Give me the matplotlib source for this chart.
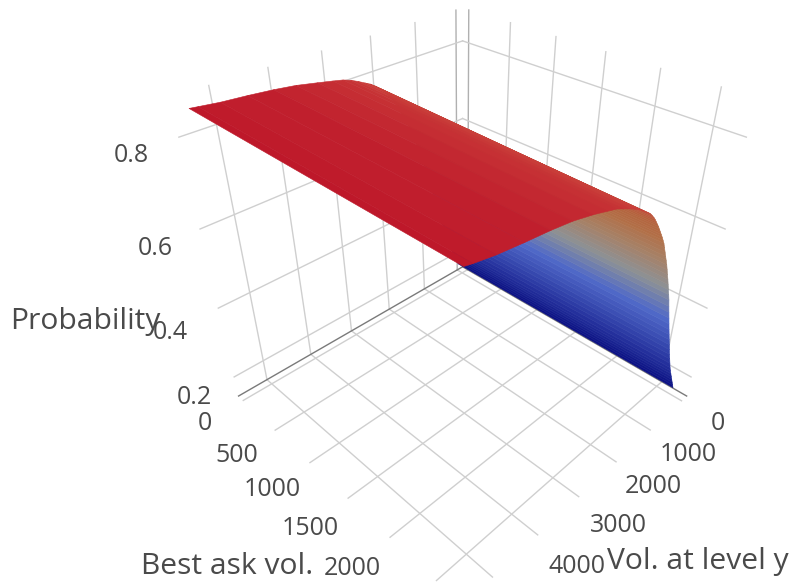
import numpy as np
import matplotlib
matplotlib.use('Agg')
import matplotlib.pyplot as plt
from matplotlib.colors import LinearSegmentedColormap, Normalize
from mpl_toolkits.mplot3d import proj3d

plt.rcParams['font.family'] = ['Open Sans', 'DejaVu Sans']

# values
vol_levels = [120, 160, 200, 240, 280, 320, 360, 400, 440, 480, 520, 560, 600, 640, 680, 720, 760, 800, 840, 880,
              920, 960, 1000, 1040, 1080, 1120, 1160, 1200, 1240, 1280, 1320, 1360, 1400, 1440, 1480, 1520, 1560,
              1600, 1640, 1680, 1720, 1760, 1800, 1860, 1920, 2000, 2100, 2200, 2300, 2450, 2600, 2750, 2950,
              3250, 3650, 4050, 4500, 4950, 5300, 5437]
ask_levels = [0, 2683]
prob_ask_0 = [.178, .190, .202, .214, .226, .238, .250, .263, .279, .295, .311, .328, .345, .362, .379, .396, .414,
              .432, .450, .468, .487, .503, .519, .535, .551, .566, .581, .595, .608, .620, .632, .644, .656, .666,
              .676, .685, .694, .703, .712, .720, .728, .735, .741, .750, .758, .767, .776, .784, .790, .799, .807,
              .813, .818, .825, .834, .840, .845, .849, .854, .856]
prob_ask_2683 = [.178, .190, .202, .214, .226, .238, .250, .263, .279, .295, .311, .328, .345, .362, .379, .396, .414,
                 .432, .450, .468, .487, .503, .518, .533, .548, .562, .576, .590, .602, .614, .626, .638, .650, .659,
                 .668, .676, .684, .692, .700, .707, .714, .721, .727, .735, .742, .748, .757, .765, .771, .780, .788,
                 .796, .803, .813, .824, .831, .837, .844, .852, .856]

vol_ticks = [0, 1000, 2000, 3000, 4000, 5000]
ask_ticks = [0, 500, 1000, 1500, 2000, 2500]
prob_ticks = [0.2, 0.4, 0.6, 0.8]
vol_lim = (-171.2, 5607.9)
ask_lim = (-77.6, 2760.3)
prob_lim = (0.1395, 0.8776)

GRID = '#cfcfcf'
BACK = '#b0b0b0'
DARK = '#7a7a7a'
TEXT = '#4a4a4a'

fig = plt.figure(figsize=(7.92, 5.83), dpi=100)
ax = fig.add_axes([152.6 / 792, 6.4 / 583, 603.7 / 792, 603.7 / 583], projection='3d', computed_zorder=False)
ax.set_axis_off()
ax.set_proj_type('persp', focal_length=0.2381)
ax.view_init(elev=35.21, azim=45)
ax.set_box_aspect((1, 1, 1))
ax.autoscale(False)
ax.set_xlim(*vol_lim)
ax.set_ylim(*ask_lim)
ax.set_zlim(*prob_lim)

# floor and back walls
line_kw = dict(lw=1, zorder=1, clip_on=False)
for v in vol_ticks:
    ax.plot([v, v], ask_lim, [prob_lim[0]] * 2, color=GRID, **line_kw)
    ax.plot([v, v], [ask_lim[0]] * 2, prob_lim, color=BACK if v == 0 else GRID, **line_kw)
for a in ask_ticks:
    ax.plot(vol_lim, [a, a], [prob_lim[0]] * 2, color=GRID, **line_kw)
    ax.plot([vol_lim[0]] * 2, [a, a], prob_lim, color=BACK if a == 0 else GRID, **line_kw)
for p in prob_ticks:
    ax.plot(vol_lim, [ask_lim[0]] * 2, [p, p], color=GRID, **line_kw)
    ax.plot([vol_lim[0]] * 2, ask_lim, [p, p], color=GRID, **line_kw)
ax.plot(vol_lim, [ask_lim[0]] * 2, [prob_lim[0]] * 2, color=DARK, **line_kw)
ax.plot([vol_lim[0]] * 2, ask_lim, [prob_lim[0]] * 2, color=DARK, **line_kw)

# surface
cmap = LinearSegmentedColormap.from_list('prob', [
    (0.00, (10 / 255, 15 / 255, 130 / 255)),
    (0.36, (80 / 255, 105 / 255, 200 / 255)),
    (0.50, (140 / 255, 145 / 255, 150 / 255)),
    (0.62, (165 / 255, 130 / 255, 105 / 255)),
    (0.72, (178 / 255, 112 / 255, 72 / 255)),
    (0.80, (180 / 255, 100 / 255, 62 / 255)),
    (0.90, (202 / 255, 62 / 255, 58 / 255)),
    (1.00, (190 / 255, 24 / 255, 42 / 255)),
])
X, Y = np.meshgrid(vol_levels, ask_levels)
Z = np.array([prob_ask_0, prob_ask_2683])
colors = cmap(Normalize(0.17, 0.856)(Z))
ax.plot_surface(X, Y, Z, facecolors=colors, rstride=1, cstride=1, shade=False, linewidth=0.4,
                antialiased=True, zorder=2)


def label(x, y, z, text, dx, dy, size=18):
    px, py, _ = proj3d.proj_transform(x, y, z, ax.get_proj())
    ax.annotate(text, xy=(px, py), xycoords='data', xytext=(dx, dy), textcoords='offset pixels',
                ha='center', va='center', color=TEXT, fontsize=size, annotation_clip=False, zorder=5)


# tick labels sit a fixed pixel offset from the end of their grid line
prob_offsets = [(-40, -21), (-48, -24), (-45, -19), (-48, -18)]
ask_offsets = [(-38, -23), (-38, -25), (-38, -27), (-38, -30), (-38, -31)]
vol_offsets = [(36, -23), (38, -24), (37, -25), (40, -29), (39, -32)]
for p, (dx, dy) in zip(prob_ticks, prob_offsets):
    label(vol_lim[1], ask_lim[0], p, f'{p:.1f}', dx, dy)
for a, (dx, dy) in zip(ask_ticks, ask_offsets):
    label(vol_lim[1], a, prob_lim[0], str(a), dx, dy)
for v, (dx, dy) in zip(vol_ticks, vol_offsets):
    label(v, ask_lim[1], prob_lim[0], str(v), dx, dy)

fig.text(85 / 792, 1 - 321 / 583, 'Probability', ha='center', va='center', color=TEXT, fontsize=21.6)
fig.text(227 / 792, 1 - 566 / 583, 'Best ask vol.', ha='center', va='center', color=TEXT, fontsize=21.6)
fig.text(698 / 792, 1 - 562 / 583, 'Vol. at level y', ha='center', va='center', color=TEXT, fontsize=21.6)

fig.savefig('out.png', dpi=100)
